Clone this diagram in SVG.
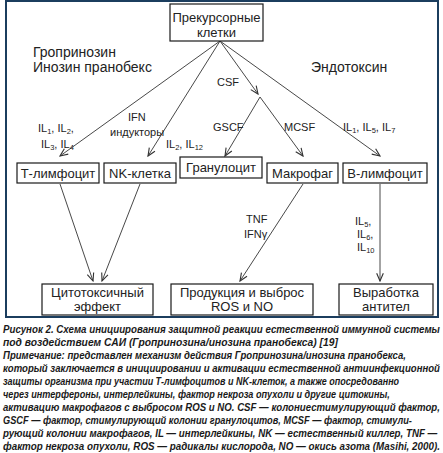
<svg xmlns="http://www.w3.org/2000/svg" width="443" height="453" viewBox="0 0 443 453">
<style>
.box{fill:#fff;stroke:#1a1a1a;stroke-width:1.2}
.t{font-family:"Liberation Sans",Arial,sans-serif;font-size:13px;fill:#222;text-anchor:middle}
.l{font-family:"Liberation Sans",Arial,sans-serif;font-size:11px;fill:#222}
.big{font-family:"Liberation Sans",Arial,sans-serif;font-size:14px;fill:#222}
.s{font-size:7.5px}
.c{font-family:"Liberation Sans",Arial,sans-serif;font-size:10.5px;font-weight:bold;font-style:italic;fill:#1a1a1a}
.ln{fill:none;stroke:#333;stroke-width:0.9;marker-end:url(#ah)}
</style>
<defs>
<marker id="ah" markerUnits="userSpaceOnUse" markerWidth="10" markerHeight="10" viewBox="-8 -4 9 8" refX="0" refY="0" orient="auto">
<path d="M-7,-3 L0,0 L-7,3" fill="none" stroke="#333" stroke-width="1"/>
</marker>
</defs>
<rect x="0" y="0" width="443" height="453" fill="#fff"/>
<rect x="6" y="1" width="432" height="316" fill="#fff" stroke="#1b3d5e" stroke-width="2"/>

<g id="connectors">
<line class="ln" x1="220" y1="41" x2="60" y2="156"/>
<line class="ln" x1="220" y1="41" x2="148" y2="156"/>
<line class="ln" x1="220" y1="41" x2="258" y2="94"/>
<line class="ln" x1="220" y1="41" x2="380" y2="156"/>
<line class="ln" x1="260" y1="97" x2="225" y2="156"/>
<line class="ln" x1="260" y1="97" x2="303" y2="156"/>
<line class="ln" x1="60" y1="184" x2="93" y2="281"/>
<line class="ln" x1="140" y1="184" x2="102" y2="281"/>
<line class="ln" x1="303" y1="184" x2="240" y2="281"/>
<line class="ln" x1="380" y1="184" x2="380" y2="281"/>
</g>

<g id="labels">
<text class="big" x="33" y="57">Гропринозин</text>
<text class="big" x="33" y="72">Инозин пранобекс</text>
<text class="big" x="311" y="72">Эндотоксин</text>
<text class="l" x="217" y="86">CSF</text>
<text class="l" x="128" y="121">IFN</text>
<text class="l" x="110" y="136">индукторы</text>
<text class="l" x="38" y="132">IL<tspan class="s" dy="2">1</tspan><tspan dy="-2">, IL</tspan><tspan class="s" dy="2">2</tspan><tspan dy="-2">,</tspan></text>
<text class="l" x="41" y="148">IL<tspan class="s" dy="2">3</tspan><tspan dy="-2">, IL</tspan><tspan class="s" dy="2">4</tspan></text>
<text class="l" x="166" y="148">IL<tspan class="s" dy="2">2</tspan><tspan dy="-2">, IL</tspan><tspan class="s" dy="2">12</tspan></text>
<text class="l" x="213" y="131">GSCF</text>
<text class="l" x="284" y="131">MCSF</text>
<text class="l" x="343" y="131">IL<tspan class="s" dy="2">1</tspan><tspan dy="-2">, IL</tspan><tspan class="s" dy="2">5</tspan><tspan dy="-2">, IL</tspan><tspan class="s" dy="2">7</tspan></text>
<text class="l" x="246" y="223">TNF</text>
<text class="l" x="244" y="238">IFNγ</text>
<text class="l" x="355" y="225">IL<tspan class="s" dy="2">5</tspan><tspan dy="-2">,</tspan></text>
<text class="l" x="357" y="238">IL<tspan class="s" dy="2">6</tspan><tspan dy="-2">,</tspan></text>
<text class="l" x="357" y="251">IL<tspan class="s" dy="2">10</tspan></text>
</g>

<g id="node-precursor">
<rect class="box" x="170" y="4" width="93" height="37"/>
<text class="t" x="216.5" y="22">Прекурсорные</text>
<text class="t" x="216.5" y="37">клетки</text>
</g>
<g id="node-t">
<rect class="box" x="17" y="163" width="82" height="20"/>
<text class="t" x="58" y="178">Т-лимфоцит</text>
</g>
<g id="node-nk">
<rect class="box" x="104" y="163" width="72" height="20"/>
<text class="t" x="140" y="178">NK-клетка</text>
</g>
<g id="node-gran">
<rect class="box" x="180" y="157" width="82" height="21"/>
<text class="t" x="221" y="172">Гранулоцит</text>
</g>
<g id="node-macro">
<rect class="box" x="267" y="163" width="71" height="20"/>
<text class="t" x="302.5" y="178">Макрофаг</text>
</g>
<g id="node-b">
<rect class="box" x="343" y="163" width="84" height="20"/>
<text class="t" x="385" y="178">В-лимфоцит</text>
</g>
<g id="node-cyto">
<rect class="box" x="42" y="284" width="111" height="31"/>
<text class="t" x="97.5" y="297">Цитотоксичный</text>
<text class="t" x="97.5" y="311">эффект</text>
</g>
<g id="node-ros">
<rect class="box" x="171" y="284" width="142" height="31"/>
<text class="t" x="242" y="297">Продукция и выброс</text>
<text class="t" x="242" y="311">ROS и NO</text>
</g>
<g id="node-ab">
<rect class="box" x="339" y="284" width="94" height="31"/>
<text class="t" x="386" y="297">Выработка</text>
<text class="t" x="386" y="311">антител</text>
</g>

<g id="caption" transform="translate(3,0) scale(0.85,1)">
<text class="c" x="0" y="333" textLength="514" lengthAdjust="spacingAndGlyphs">Рисунок 2. Схема инициирования защитной реакции естественной иммунной системы</text>
<text class="c" x="0" y="346" textLength="394" lengthAdjust="spacingAndGlyphs">под воздействием САИ (Гропринозина/инозина пранобекса) [19]</text>
<text class="c" x="0" y="359" textLength="474" lengthAdjust="spacingAndGlyphs">Примечание: представлен механизм действия Гропринозина/инозина пранобекса,</text>
<text class="c" x="0" y="372" textLength="514" lengthAdjust="spacingAndGlyphs">который заключается в инициировании и активации естественной антиинфекционной</text>
<text class="c" x="0" y="385" textLength="466" lengthAdjust="spacingAndGlyphs">защиты организма при участии Т-лимфоцитов и NK-клеток, а также опосредованно</text>
<text class="c" x="0" y="398" textLength="455" lengthAdjust="spacingAndGlyphs">через интерфероны, интерлейкины, фактор некроза опухоли и другие цитокины,</text>
<text class="c" x="0" y="411" textLength="514" lengthAdjust="spacingAndGlyphs">активацию макрофагов с выбросом ROS и NO. CSF — колониестимулирующий фактор,</text>
<text class="c" x="0" y="424" textLength="481" lengthAdjust="spacingAndGlyphs">GSCF — фактор, стимулирующий колонии гранулоцитов, MCSF — фактор, стимули-</text>
<text class="c" x="0" y="437" textLength="511" lengthAdjust="spacingAndGlyphs">рующий колонии макрофагов, IL — интерлейкины, NK — естественный киллер, TNF —</text>
<text class="c" x="0" y="450" textLength="514" lengthAdjust="spacingAndGlyphs">фактор некроза опухоли, ROS — радикалы кислорода, NO — окись азота (Masihi, 2000).</text>
</g>
</svg>
